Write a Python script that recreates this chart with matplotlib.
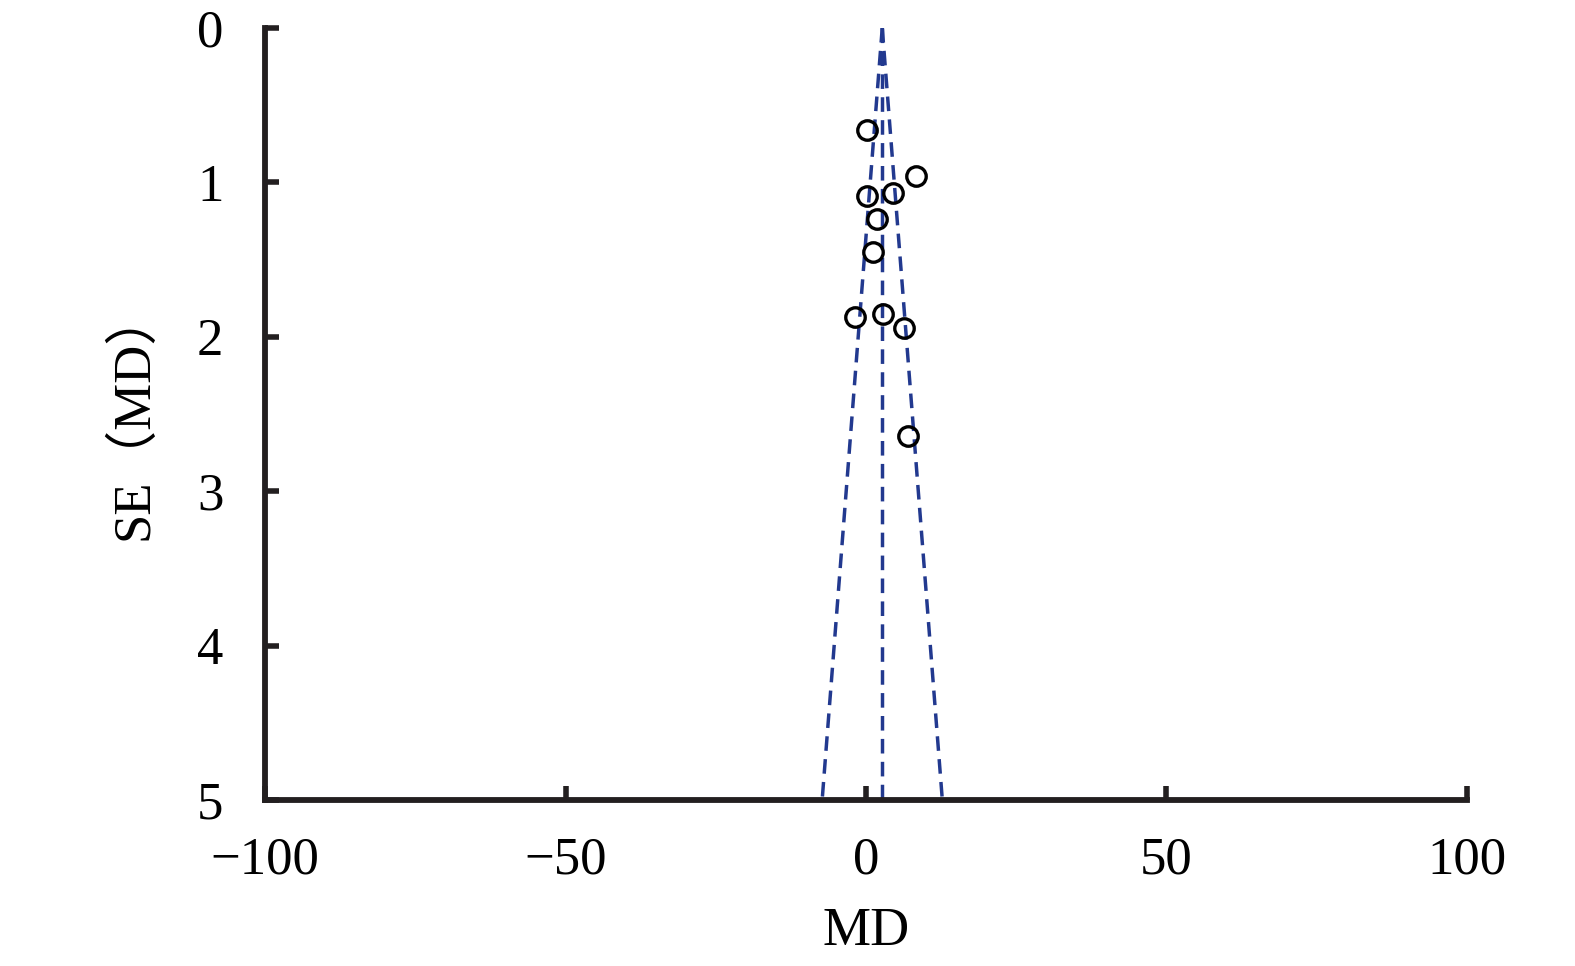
import numpy as np
import matplotlib.pyplot as plt

plt.rcParams['font.family'] = ['Liberation Serif', 'Noto Sans CJK SC', 'DejaVu Sans']

# study effects (MD) and standard errors
md = [0.2, 8.3, 0.2, 4.5, 1.9, 1.1, -1.8, 2.8, 6.3, 7.0]
se = [0.66, 0.96, 1.09, 1.07, 1.24, 1.45, 1.87, 1.85, 1.94, 2.64]
pooled_md = 2.7
z = 2.0
se_max = 5

x_ticks = [-100, -50, 0, 50, 100]
y_ticks = [0, 1, 2, 3, 4, 5]

fig = plt.figure(figsize=(15.75, 9.66), dpi=100)
ax = fig.add_axes([0.1683, 0.1718, 0.9314 - 0.1683, 0.971 - 0.1718])

line_color = '#22398f'
se_line = np.array([0, se_max])
dash = (4.2, 2.4)
ax.plot([pooled_md, pooled_md], se_line, color=line_color, lw=2.5, dashes=dash)
ax.plot(pooled_md - z * se_line, se_line, color=line_color, lw=2.5, dashes=dash)
ax.plot(pooled_md + z * se_line, se_line, color=line_color, lw=2.5, dashes=dash)

ax.plot(md, se, 'o', mfc='none', mec='black', ms=14, mew=2.4, zorder=3)

ax.set_xlim(-100, 100)
ax.set_ylim(5, 0)
ax.set_xticks(x_ticks)
ax.set_xticklabels([str(t).replace('-', '\u2212') for t in x_ticks])
ax.set_yticks(y_ticks)

for side in ['top', 'right']:
    ax.spines[side].set_visible(False)
for side in ['left', 'bottom']:
    ax.spines[side].set_linewidth(4.2)
    ax.spines[side].set_color('#231f20')
    ax.spines[side].set_capstyle('projecting')

ax.tick_params(axis='x', direction='in', length=10, width=4, pad=26, labelsize=38, color='#231f20')
ax.tick_params(axis='y', direction='in', length=10, width=4, pad=30, labelsize=38, color='#231f20')

ax.set_xlabel('MD', fontsize=39, labelpad=16)
ax.set_ylabel('SE\uff08MD\uff09', fontsize=38, labelpad=28)

fig.savefig('out.png', dpi=100)
